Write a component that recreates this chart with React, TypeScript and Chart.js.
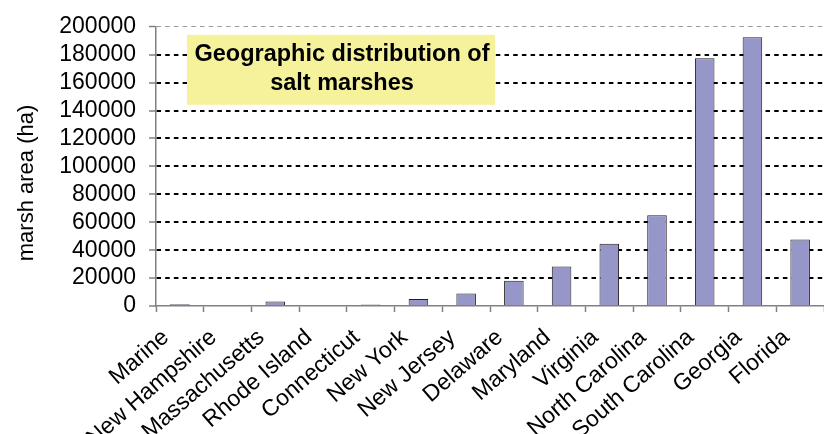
import React, { useEffect, useRef } from 'react';
import { Chart, registerables } from 'chart.js';

Chart.register(...registerables);

const states = [
  'Marine',
  'New Hampshire',
  'Massachusetts',
  'Rhode Island',
  'Connecticut',
  'New York',
  'New Jersey',
  'Delaware',
  'Maryland',
  'Virginia',
  'North Carolina',
  'South Carolina',
  'Georgia',
  'Florida',
];

const marshArea = [1200, 0, 3300, 0, 1000, 5000, 9000, 18000, 28300, 44600, 65000, 177500, 192500, 47700];

const yMin = 0;
const yMax = 200000;
const yStep = 20000;

const titleLines = ['Geographic distribution of', 'salt marshes'];
const yAxisTitle = 'marsh area (ha)';

const FONT = '"Liberation Sans", Arial, Helvetica, sans-serif';

const overlayPlugin = {
  id: 'overlay',
  afterDraw(chart: any) {
    const { ctx, chartArea } = chart;
    ctx.save();
    const bx = chartArea.left + 31;
    const by = chartArea.top + 8;
    const bw = 308;
    const bh = 70;
    ctx.fillStyle = '#F6F29C';
    ctx.fillRect(bx, by, bw, bh);
    ctx.fillStyle = '#000';
    ctx.font = `bold 23.5px ${FONT}`;
    ctx.textAlign = 'center';
    ctx.textBaseline = 'middle';
    ctx.fillText(titleLines[0], bx + bw / 2 + 1, by + 20);
    ctx.fillText(titleLines[1], bx + bw / 2 + 1, by + 49);
    ctx.restore();

    ctx.save();
    ctx.translate(33, 183);
    ctx.rotate(-Math.PI / 2);
    ctx.font = `22px ${FONT}`;
    ctx.fillStyle = '#000';
    ctx.textAlign = 'center';
    ctx.textBaseline = 'alphabetic';
    ctx.fillText(yAxisTitle, 0, 0);
    ctx.restore();
  },
};

export default function App() {
  const canvasRef = useRef<HTMLCanvasElement | null>(null);

  useEffect(() => {
    document.body.style.margin = '0';
    const canvas = canvasRef.current;
    if (!canvas) return;
    const chart = new Chart(canvas, {
      type: 'bar',
      data: {
        labels: states,
        datasets: [
          {
            label: 'marsh area (ha)',
            data: marshArea,
            backgroundColor: '#9696C8',
            borderColor: '#222222',
            borderWidth: 1,
            barPercentage: 0.41,
            categoryPercentage: 1,
          },
        ],
      },
      options: {
        responsive: true,
        maintainAspectRatio: false,
        animation: false,
        layout: { padding: { top: 21, left: 0, right: 0, bottom: 0 } },
        plugins: {
          legend: { display: false },
          title: { display: false },
          tooltip: { enabled: false },
        },
        scales: {
          x: {
            grid: {
              offset: true,
              drawOnChartArea: false,
              drawTicks: true,
              tickLength: 6,
              tickColor: '#808080',
              tickWidth: 1.5,
            },
            border: { display: true, color: '#808080', width: 1.5 },
            ticks: {
              autoSkip: false,
              maxRotation: 41,
              minRotation: 41,
              labelOffset: -14,
              padding: 12,
              color: '#000',
              font: { family: FONT, size: 23 },
            },
            afterFit: (s: any) => {
              s.height = 128;
              s.paddingLeft = 0;
              s.paddingRight = 0;
            },
          },
          y: {
            min: yMin,
            max: yMax,
            ticks: {
              stepSize: yStep,
              autoSkip: false,
              padding: 13,
              color: '#000',
              font: { family: FONT, size: 23 },
              callback: (v: any) => String(v),
            },
            grid: {
              color: (c: any) => {
                const v = c.tick ? c.tick.value : 0;
                if (v === yMax) return '#9a9a9a';
                if (v === yMin) return 'rgba(0,0,0,0)';
                return '#000';
              },
              lineWidth: (c: any) => (c.tick && c.tick.value === yMax ? 1 : 2),
              drawTicks: true,
              tickLength: 7,
              tickColor: '#808080',
              tickWidth: 1.5,
              tickBorderDash: [],
            },
            border: { display: true, color: '#808080', width: 1.5, dash: [4.5, 4.2] },
            afterFit: (s: any) => {
              s.width = 156;
            },
          },
        },
      },
      plugins: [overlayPlugin],
    });
    return () => chart.destroy();
  }, []);

  return (
    <div style={{ width: 824, height: 434, position: 'relative' }}>
      <canvas ref={canvasRef} />
    </div>
  );
}
